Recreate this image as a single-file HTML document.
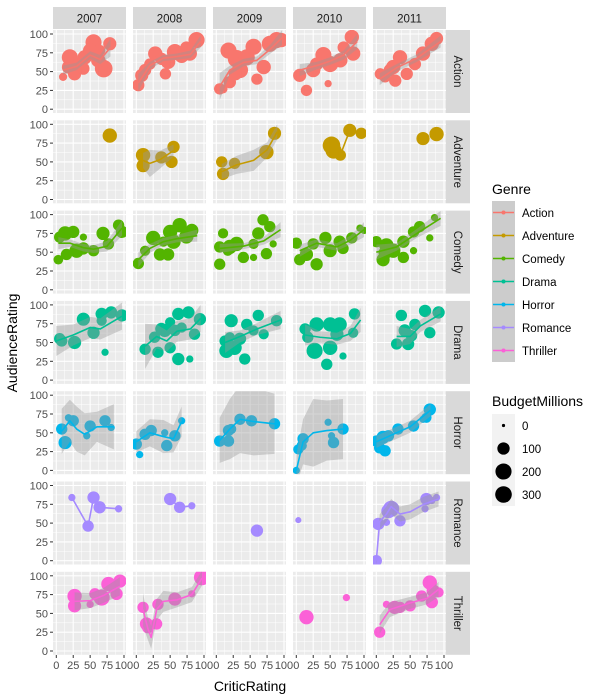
<!DOCTYPE html>
<html><head><meta charset="utf-8"><style>
html,body{margin:0;padding:0;background:#fff;}
svg{display:block;font-family:"Liberation Sans",Arial,sans-serif;}
</style></head><body>
<svg id="chart" width="600" height="700" viewBox="0 0 600 700"></svg>
<script>
const genres = ["Action","Adventure","Comedy","Drama","Horror","Romance","Thriller"];
const years = [2007,2008,2009,2010,2011];
const colors = ["#F8766D","#C49A00","#53B400","#00C094","#00B6EB","#A58AFF","#FB61D7"];
const xTicks = [0,25,50,75,100];
const yTicks = [0,25,50,75,100];
const sizeLegendValues = [0,100,200,300];
// points: [year, critic, audience, budget]
const ptsAction = [
[2007,10,43,30],[2007,20,69,200],[2007,18,56,120],[2007,27,47,120],[2007,42,69,150],[2007,55,89,200],[2007,50,78,150],[2007,79,87,120],[2007,70,54,250],[2007,62,65,150],[2007,40,54,100],[2007,33,60,100],[2007,64,78,80],
[2008,3,32,100],[2008,8,45,120],[2008,13,52,100],[2008,28,74,150],[2008,37,67,100],[2008,47,63,150],[2008,57,76,200],[2008,67,71,150],[2008,79,74,150],[2008,89,92,200],[2008,43,47,80],[2008,20,60,80],[2008,74,82,100],
[2009,5,27,80],[2009,10,27,40],[2009,20,36,100],[2009,18,78,200],[2009,30,67,250],[2009,35,52,200],[2009,45,69,200],[2009,55,83,200],[2009,70,56,150],[2009,79,87,200],[2009,89,92,200],[2009,96,92,150],[2009,60,40,80],[2009,28,47,120],
[2010,5,45,120],[2010,15,25,80],[2010,25,52,150],[2010,40,72,200],[2010,50,60,200],[2010,65,65,150],[2010,82,96,150],[2010,84,74,150],[2010,47,34,20],[2010,70,82,100],[2010,30,60,120],
[2011,6,47,80],[2011,13,43,80],[2011,25,56,150],[2011,35,69,150],[2011,45,47,100],[2011,57,60,100],[2011,69,74,150],[2011,82,87,150],[2011,89,94,120],[2011,28,38,100],[2011,20,52,100]];
const ptsAdventure = [
[2007,79,85,150],
[2008,10,59,150],[2008,10,45,120],[2008,37,56,100],[2008,55,70,100],[2008,52,50,100],
[2009,8,50,80],[2009,10,34,100],[2009,27,48,80],[2009,74,63,150],[2009,86,88,120],
[2010,52,72,250],[2010,65,59,80],[2010,79,92,120],[2010,96,88,80],[2010,55,65,200],
[2011,69,81,120],[2011,89,87,150]];
const ptsComedy = [
[2007,3,40,50],[2007,13,75,150],[2007,25,77,100],[2007,5,70,80],[2007,40,70,20],[2007,30,52,150],[2007,40,55,100],[2007,55,52,80],[2007,69,75,120],[2007,77,61,80],[2007,92,86,80],[2007,97,77,100],[2007,15,47,80],
[2008,3,35,80],[2008,13,52,60],[2008,25,69,150],[2008,35,47,100],[2008,47,47,100],[2008,50,77,150],[2008,64,86,150],[2008,74,71,150],[2008,82,79,120],[2008,40,64,60],[2008,55,64,150],
[2009,5,57,80],[2009,10,75,60],[2009,17,52,60],[2009,5,34,80],[2009,30,61,150],[2009,40,43,80],[2009,55,61,60],[2009,62,75,100],[2009,69,93,80],[2009,79,84,80],[2009,74,48,80],[2009,84,61,20],[2009,55,43,20],[2009,20,57,150],
[2010,0,62,80],[2010,5,40,80],[2010,15,47,120],[2010,25,61,80],[2010,30,34,100],[2010,43,69,100],[2010,50,52,120],[2010,64,64,100],[2010,82,69,80],[2010,94,82,20],[2010,100,79,20],[2010,69,55,80],
[2011,0,64,80],[2011,10,40,120],[2011,15,59,150],[2011,25,52,150],[2011,40,64,100],[2011,55,77,80],[2011,64,84,80],[2011,79,69,20],[2011,86,96,20],[2011,55,52,20],[2011,40,43,80],[2011,13,49,120]];
const ptsDrama = [
[2007,5,55,80],[2007,27,50,120],[2007,40,81,120],[2007,55,63,100],[2007,67,88,100],[2007,67,79,60],[2007,72,37,20],[2007,81,90,100],[2007,97,86,100],[2007,8,52,80],
[2008,13,41,80],[2008,32,37,80],[2008,27,57,80],[2008,42,66,120],[2008,50,77,60],[2008,62,88,100],[2008,77,90,100],[2008,57,66,80],[2008,67,70,60],[2008,86,61,80],[2008,94,81,100],[2008,62,28,100],[2008,79,28,20],[2008,50,43,80],[2008,37,68,100],
[2009,13,52,80],[2009,22,79,120],[2009,15,39,150],[2009,20,57,60],[2009,45,74,80],[2009,55,66,60],[2009,62,86,80],[2009,70,61,60],[2009,89,79,80],[2009,42,28,80],[2009,27,43,150],[2009,35,55,100],
[2010,13,68,80],[2010,17,57,80],[2010,27,39,200],[2010,30,74,150],[2010,50,74,150],[2010,64,74,150],[2010,50,43,150],[2010,45,21,80],[2010,69,32,20],[2010,86,88,80],[2010,84,63,60],[2010,60,61,120],
[2011,30,48,80],[2011,37,86,80],[2011,42,66,100],[2011,47,48,100],[2011,57,74,80],[2011,72,92,100],[2011,79,63,80],[2011,92,90,100],[2011,52,59,80]];
const ptsHorror = [
[2007,8,55,80],[2007,13,37,120],[2007,18,70,20],[2007,25,66,80],[2007,45,46,20],[2007,50,59,80],[2007,72,66,80],[2007,81,57,20],
[2008,0,35,80],[2008,5,21,20],[2008,13,48,80],[2008,22,53,80],[2008,42,50,20],[2008,45,33,80],[2008,57,46,80],[2008,67,66,20],
[2009,5,39,80],[2009,18,53,80],[2009,22,55,60],[2009,18,39,80],[2009,35,68,80],[2009,52,66,80],[2009,86,62,80],
[2010,0,0,20],[2010,3,28,60],[2010,10,42,80],[2010,8,33,60],[2010,47,64,20],[2010,52,46,20],[2010,55,37,80],[2010,69,55,80],
[2011,0,39,80],[2011,5,30,80],[2011,13,26,80],[2011,10,44,120],[2011,18,46,80],[2011,32,55,80],[2011,55,59,80],[2011,69,68,20],[2011,79,81,100],[2011,74,70,60]];
const ptsRomance = [
[2007,23,84,20],[2007,47,46,80],[2007,55,84,100],[2007,64,71,100],[2007,92,69,20],
[2008,50,82,100],[2008,64,71,80],[2008,82,73,20],
[2009,60,40,100],
[2010,3,54,10],
[2011,0,0,80],[2011,3,49,100],[2011,15,51,20],[2011,18,66,150],[2011,22,69,200],[2011,35,53,80],[2011,72,69,20],[2011,74,82,100],[2011,82,80,20],[2011,89,84,20]];
const ptsThriller = [
[2007,27,73,150],[2007,27,60,120],[2007,50,62,20],[2007,57,76,80],[2007,67,71,200],[2007,77,89,150],[2007,89,76,100],[2007,94,93,120],[2007,82,85,60],
[2008,10,58,80],[2008,15,36,120],[2008,30,36,80],[2008,32,62,80],[2008,57,69,120],[2008,82,76,20],[2008,97,98,200],[2008,17,31,80],
[2010,15,45,150],[2010,74,71,20],
[2011,5,25,80],[2011,15,62,20],[2011,27,58,120],[2011,35,58,80],[2011,50,60,80],[2011,67,73,80],[2011,82,65,100],[2011,84,80,120],[2011,79,91,150],[2011,92,78,60]];
// smooth: [year, critic, fitted audience, band half-width]
const smAction = [
[2007,10,52,6],[2007,30,57,5],[2007,50,72,5],[2007,65,66,6],[2007,80,82,12],
[2008,3,35,12],[2008,20,58,5],[2008,40,68,4],[2008,60,70,4],[2008,80,73,5],[2008,95,90,8],
[2009,5,30,18],[2009,20,52,6],[2009,40,62,5],[2009,60,65,5],[2009,80,80,6],[2009,97,95,10],
[2010,5,52,8],[2010,30,58,5],[2010,50,64,5],[2010,70,72,6],[2010,90,90,10],
[2011,5,40,8],[2011,30,55,5],[2011,60,68,5],[2011,95,90,8]];
const smAdventure = [
[2008,10,52,10],[2008,20,48,18],[2008,35,53,12],[2008,55,65,8],
[2009,8,37,10],[2009,30,46,12],[2009,55,52,14],[2009,75,66,10],[2009,90,90,10],
[2010,65,59,0],[2010,79,92,0]];
const smComedy = [
[2007,3,62,8],[2007,20,62,5],[2007,40,56,5],[2007,55,54,5],[2007,75,58,7],[2007,97,82,10],
[2008,3,40,10],[2008,20,55,6],[2008,40,64,5],[2008,60,68,5],[2008,90,72,8],
[2009,5,55,6],[2009,40,58,4],[2009,70,65,5],[2009,95,80,10],
[2010,5,52,8],[2010,30,62,5],[2010,60,57,5],[2010,80,66,6],[2010,100,80,10],
[2011,0,50,10],[2011,30,57,5],[2011,60,75,6],[2011,95,95,10]];
const smDrama = [
[2007,0,52,20],[2007,25,60,14],[2007,50,70,14],[2007,65,68,14],[2007,97,85,18],
[2008,13,45,30],[2008,30,58,16],[2008,45,52,14],[2008,60,65,14],[2008,80,68,14],[2008,95,82,18],
[2009,13,50,14],[2009,35,58,8],[2009,60,68,8],[2009,95,80,12],
[2010,13,60,14],[2010,35,57,8],[2010,60,55,8],[2010,80,62,10],[2010,95,80,16],
[2011,30,58,14],[2011,50,58,10],[2011,65,72,8],[2011,95,88,10]];
const smHorror = [
[2007,8,52,30],[2007,20,66,28],[2007,30,55,30],[2007,42,48,28],[2007,60,58,20],[2007,85,58,30],
[2008,0,38,14],[2008,20,50,18],[2008,40,45,22],[2008,55,42,18],[2008,67,65,20],
[2009,5,40,30],[2009,20,55,40],[2009,35,68,45],[2009,55,65,45],[2009,86,62,40],
[2010,0,0,20],[2010,10,38,30],[2010,25,50,45],[2010,45,53,40],[2010,69,55,40],
[2011,0,38,8],[2011,25,48,8],[2011,50,58,8],[2011,80,80,8]];
const smRomance = [
[2007,23,84,0],[2007,47,46,0],[2007,55,84,0],[2007,64,71,0],[2007,92,69,0],
[2008,50,82,0],[2008,64,71,0],[2008,82,73,0],
[2011,0,0,6],[2011,5,52,10],[2011,15,62,10],[2011,22,72,10],[2011,35,62,10],[2011,50,65,10],[2011,70,75,10],[2011,92,82,10]];
const smThriller = [
[2007,27,66,12],[2007,50,67,10],[2007,70,74,10],[2007,94,86,12],
[2008,10,55,22],[2008,17,30,15],[2008,22,18,15],[2008,30,55,14],[2008,40,66,14],[2008,60,68,10],[2008,82,75,10],[2008,97,97,10],
[2011,5,35,12],[2011,20,55,10],[2011,50,64,8],[2011,75,70,8],[2011,92,82,10]];
const allPts = [ptsAction,ptsAdventure,ptsComedy,ptsDrama,ptsHorror,ptsRomance,ptsThriller];
const allSm = [smAction,smAdventure,smComedy,smDrama,smHorror,smRomance,smThriller];

const NS="http://www.w3.org/2000/svg";
const svg=document.getElementById('chart');
function mk(tag,attrs,parent){const e=document.createElementNS(NS,tag);for(const k in attrs)e.setAttribute(k,attrs[k]);(parent||svg).appendChild(e);return e;}
const PX0=53, PW=73, CSTEP=80, PY0=30, PH=83, RSTEP=90.3;
function xs(col,v){return PX0+col*CSTEP+3.3+v*0.677;}
function ys(row,v){return PY0+row*RSTEP+PH-3.8-v*0.752;}
function rad(b){return 1.6+7.9*Math.sqrt(Math.max(b,0)/300);}

const defs=mk('defs',{});
years.forEach((yr,c)=>{
  const g=mk('g',{});
  
  
  mk('rect',{x:PX0+c*CSTEP,y:7,width:PW,height:22,fill:'#D9D9D9'},g);
  const t=mk('text',{x:PX0+c*CSTEP+PW/2,y:22.5,'text-anchor':'middle','font-size':'11.5',fill:'#1A1A1A'},g);t.textContent=yr;
});
genres.forEach((gn,r)=>{
  const top=PY0+r*RSTEP;
  const g=mk('g',{});
  
  
  mk('rect',{x:446,y:top,width:24,height:PH,fill:'#D9D9D9'},g);
  const t=mk('text',{x:0,y:0,'text-anchor':'middle','font-size':'11.5',fill:'#1A1A1A',transform:`translate(454,${top+PH/2}) rotate(90)`},g);t.textContent=gn;
  const ya=mk('g',{});
  
  
  yTicks.forEach(v=>{
    const y=ys(r,v);
    mk('line',{x1:50,x2:53,y1:y,y2:y,stroke:'#333','stroke-width':1},ya);
    const tt=mk('text',{x:48,y:y+4,'text-anchor':'end','font-size':'11',fill:'#4D4D4D'},ya);tt.textContent=v;
  });
});
genres.forEach((gn,r)=>{
  years.forEach((yr,c)=>{
    const px=PX0+c*CSTEP, py=PY0+r*RSTEP;
    const pg=mk('g',{});
    
    
    const cid='clip'+r+'_'+c;
    const cp=mk('clipPath',{id:cid},defs);mk('rect',{x:px,y:py,width:PW,height:PH},cp);
    mk('rect',{x:px,y:py,width:PW,height:PH,fill:'#EBEBEB'},pg);
    for(let v=12.5;v<100;v+=25){
      mk('line',{x1:xs(c,v),x2:xs(c,v),y1:py,y2:py+PH,stroke:'#fff','stroke-width':0.5},pg);
      mk('line',{x1:px,x2:px+PW,y1:ys(r,v),y2:ys(r,v),stroke:'#fff','stroke-width':0.5},pg);
    }
    xTicks.forEach(v=>mk('line',{x1:xs(c,v),x2:xs(c,v),y1:py,y2:py+PH,stroke:'#fff','stroke-width':1.1},pg));
    yTicks.forEach(v=>mk('line',{x1:px,x2:px+PW,y1:ys(r,v),y2:ys(r,v),stroke:'#fff','stroke-width':1.1},pg));
    const dg=mk('g',{'clip-path':`url(#${cid})`},pg);
    allPts[r].filter(p=>p[0]===yr).forEach(p=>{
      const ci=mk('circle',{cx:xs(c,p[1]),cy:ys(r,p[2]),r:rad(p[3]),fill:colors[r]},dg);
      
      
    });
    const sm=allSm[r].filter(p=>p[0]===yr);
    if(sm.length>1){
      if(sm.some(p=>p[3]>0)){
        let d='M'+sm.map(p=>xs(c,p[1])+','+ys(r,p[2]+p[3])).join('L');
        d+='L'+sm.slice().reverse().map(p=>xs(c,p[1])+','+ys(r,p[2]-p[3])).join('L')+'Z';
        const band=mk('path',{d:d,fill:'#999','fill-opacity':0.4},dg);
        
        
      }
      const ln=mk('path',{d:'M'+sm.map(p=>xs(c,p[1])+','+ys(r,p[2])).join('L'),fill:'none',stroke:colors[r],'stroke-width':1.6,'stroke-linejoin':'round'},dg);
      
      
    }
  });
});
years.forEach((yr,c)=>{
  const xa=mk('g',{});
  
  
  xTicks.forEach(v=>{
    const x=xs(c,v);
    mk('line',{x1:x,x2:x,y1:655,y2:658,stroke:'#333','stroke-width':1},xa);
    const t=mk('text',{x:x,y:669,'text-anchor':'middle','font-size':'11',fill:'#4D4D4D'},xa);t.textContent=v;
  });
});
const xt=mk('text',{x:250,y:691,'text-anchor':'middle','font-size':'14',fill:'#000'});xt.textContent='CriticRating';


const yt=mk('text',{x:0,y:0,'text-anchor':'middle','font-size':'14',fill:'#000',transform:'translate(17,343) rotate(-90)'});yt.textContent='AudienceRating';


const lg=mk('g',{});


const lt=mk('text',{x:492,y:194,'font-size':'14',fill:'#000'},lg);lt.textContent='Genre';
genres.forEach((gn,i)=>{
  const y=201+i*23;
  const e=mk('g',{},lg);
  
  
  mk('rect',{x:492,y:y,width:23,height:23,fill:'#CCCCCC'},e);
  mk('line',{x1:493,x2:514,y1:y+11.5,y2:y+11.5,stroke:colors[i],'stroke-width':1.6},e);
  mk('circle',{cx:503.5,cy:y+11.5,r:2,fill:colors[i]},e);
  const t=mk('text',{x:522,y:y+16,'font-size':'11.5',fill:'#000'},e);t.textContent=gn;
});
const sg=mk('g',{});


const st=mk('text',{x:492,y:406,'font-size':'14',fill:'#000'},sg);st.textContent='BudgetMillions';
mk('rect',{x:492,y:414,width:23,height:92,fill:'#F2F2F2'},sg);
sizeLegendValues.forEach((v,i)=>{
  const y=425.5+i*23;
  const e=mk('g',{},sg);
  
  
  mk('circle',{cx:503.5,cy:y,r:Math.min(rad(v),8.3),fill:'#000'},e);
  const t=mk('text',{x:522,y:y+4.5,'font-size':'11.5',fill:'#000'},e);t.textContent=v;
});
</script>
</body></html>
